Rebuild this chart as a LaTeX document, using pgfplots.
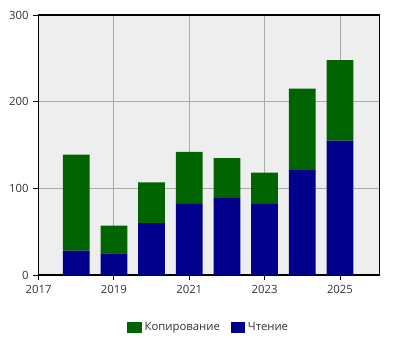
\documentclass[border=0pt]{standalone}
\usepackage{fontspec}
\setmainfont{Open Sans}
\usepackage{pgfplots}
\pgfplotsset{compat=1.18}
\definecolor{cgreen}{HTML}{006400}
\definecolor{cblue}{HTML}{00008B}
\definecolor{bg}{HTML}{EEEEEE}
\definecolor{gridc}{HTML}{AAAAAA}
\definecolor{txt}{HTML}{333333}
\begin{document}
\begin{tikzpicture}
\path[use as bounding box] (0,0) rectangle (300pt,262.5pt);
\begin{axis}[
  at={(28.9pt,56.25pt)}, anchor=south west,
  scale only axis, width=255.75pt, height=195pt,
  xmin=2017, xmax=2026.05, ymin=0, ymax=300,
  ybar stacked, bar width=0.71,
  axis background/.style={fill=bg},
  xtick={2017,2019,2021,2023,2025},
  ytick={0,100,200,300},
  xticklabel style={/pgf/number format/1000 sep=},
  /pgf/number format/assume math mode=true,
  tick pos=left, tick align=outside, major tick length=4pt,
  tick style={black, line width=0.6pt},
  xmajorgrids, ymajorgrids,
  grid style={gridc, line width=0.6pt},
  axis line style={black, line width=0.8pt},
  ticklabel style={font=\fontsize{8.5}{10}\selectfont, text=txt},
  legend style={at={(0.5,-0.16)}, anchor=north, draw=none, fill=none,
    legend columns=2, font=\fontsize{8.5}{10}\selectfont,
    text=txt, /tikz/every even column/.append style={column sep=6pt}},
  legend image code/.code={\fill[#1] (0pt,-4pt) rectangle (11pt,4pt);},
  reverse legend,
]
\addplot[fill=cblue, draw=none] coordinates {
(2018,28) (2019,25) (2020,60) (2021,82) (2022,89) (2023,82) (2024,121) (2025,155)};
\addlegendentry{Чтение}
\addplot[fill=cgreen, draw=none] coordinates {
(2018,111) (2019,32) (2020,47) (2021,60) (2022,46) (2023,36) (2024,94) (2025,93)};
\addlegendentry{Копирование}
\end{axis}
\end{tikzpicture}
\end{document}
